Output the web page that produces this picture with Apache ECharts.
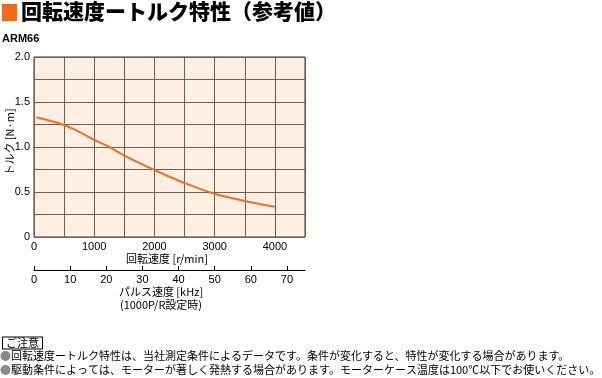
<!DOCTYPE html>
<html>
<head>
<meta charset="utf-8">
<script src="https://cdn.jsdelivr.net/npm/echarts@6/dist/echarts.min.js"></script>
<style>
  html, body { margin: 0; padding: 0; background: #fff; }
  #chart { width: 602px; height: 378px; }
</style>
</head>
<body>
<div id="chart"></div>
<script>
// 回転速度 [r/min] / トルク [N·m]
var speed = [40, 500, 720, 1000, 1250, 1500, 2000, 2500, 3000, 3500, 4000];
var torque = [1.33, 1.245, 1.18, 1.08, 1.0, 0.905, 0.745, 0.6, 0.48, 0.40, 0.335];
var speedLabels = [0, 1000, 2000, 3000, 4000];
var torqueLabels = [0, 0.5, 1.0, 1.5, 2.0];
var pulseLabels = [0, 10, 20, 30, 40, 50, 60, 70];

var JP = '"Noto Sans CJK JP", sans-serif';
var NUM = '"Liberation Sans", Arial, sans-serif';
var gridColor = '#6e5e54';

var chart = echarts.init(document.getElementById('chart'));

var option = {
    animation: false,
    grid: {
        left: 34, top: 57, width: 271, height: 180,
        show: true,
        backgroundColor: '#fdf0e3',
        borderColor: '#3c302a',
        borderWidth: 1
    },
    xAxis: [
        {
            type: 'value',
            min: 0, max: 4500, interval: 500,
            axisLine: { show: false },
            axisTick: { show: false },
            splitLine: { lineStyle: { color: gridColor, width: 1 } },
            axisLabel: {
                customValues: speedLabels,
                color: '#000', fontFamily: NUM, fontSize: 11, margin: 4,
                formatter: function (v) { return String(v); }
            }
        },
        {
            type: 'value',
            position: 'bottom',
            offset: 33,
            min: 0, max: 75, interval: 10,
            axisLine: { show: true, onZero: false, lineStyle: { color: '#000', width: 1 } },
            axisTick: { show: true, inside: true, length: 4, customValues: pulseLabels, lineStyle: { color: '#000' } },
            splitLine: { show: false },
            axisLabel: {
                customValues: pulseLabels,
                color: '#000', fontFamily: NUM, fontSize: 11, margin: 4
            }
        }
    ],
    yAxis: {
        type: 'value',
        min: 0, max: 2, interval: 0.25,
        axisLine: { show: false },
        axisTick: { show: false },
        splitLine: { lineStyle: { color: gridColor, width: 1 } },
        axisLabel: {
            customValues: torqueLabels,
            color: '#000', fontFamily: NUM, fontSize: 11, margin: 4,
            formatter: function (v) { return v === 0 ? '0' : v.toFixed(1); }
        }
    },
    series: [{
        type: 'line',
        xAxisIndex: 0,
        data: speed.map(function (s, i) { return [s, torque[i]]; }),
        smooth: 0.4,
        symbol: 'none',
        lineStyle: { color: '#f0701e', width: 2 }
    }],
    graphic: [
        { type: 'rect', shape: { x: 2, y: 4, width: 15, height: 17 }, style: { fill: '#f26a1b' } },
        { type: 'text', left: 21, top: 1, style: { text: '回転速度ートルク特性（参考値）', font: '900 21px ' + JP, fill: '#000' } },
        { type: 'text', left: 2, top: 33, style: { text: 'ARM66', font: 'bold 11px ' + NUM, fill: '#000' } },
        { type: 'text', rotation: Math.PI / 2, x: 10, y: 142, style: { x: 0, y: 0, text: 'トルク [N·m]', font: '11px ' + JP, fill: '#000', align: 'center', verticalAlign: 'middle' } },
        { type: 'text', style: { x: 167, y: 259, text: '回転速度 [r/min]', font: '11px ' + JP, fill: '#000', align: 'center', verticalAlign: 'middle' } },
        { type: 'text', style: { x: 161, y: 292, text: 'パルス速度 [kHz]', font: '11px ' + JP, fill: '#000', align: 'center', verticalAlign: 'middle' } },
        { type: 'text', style: { x: 161, y: 305, text: '(1000P/R設定時)', font: '11px ' + JP, fill: '#000', align: 'center', verticalAlign: 'middle' } },
        { type: 'text', style: { x: 3, y: 343, text: 'ご注意', font: '11px ' + JP, fill: '#000', verticalAlign: 'middle', borderColor: '#000', borderWidth: 1, padding: [0, 3, 0, 3], backgroundColor: '#fff' } },
        { type: 'text', style: { x: 0, y: 356, verticalAlign: 'middle', text: '{b|●}回転速度ートルク特性は、当社測定条件によるデータです。条件が変化すると、特性が変化する場合があります。', font: '11px ' + JP, fill: '#000', rich: { b: { fill: '#8a8a8a', font: '11px ' + JP } } } },
        { type: 'text', style: { x: 0, y: 370, verticalAlign: 'middle', text: '{b|●}駆動条件によっては、モーターが著しく発熱する場合があります。モーターケース温度は100℃以下でお使いください。', font: '11px ' + JP, fill: '#000', rich: { b: { fill: '#8a8a8a', font: '11px ' + JP } } } }
    ]
};
chart.setOption(option);
</script>
</body>
</html>
